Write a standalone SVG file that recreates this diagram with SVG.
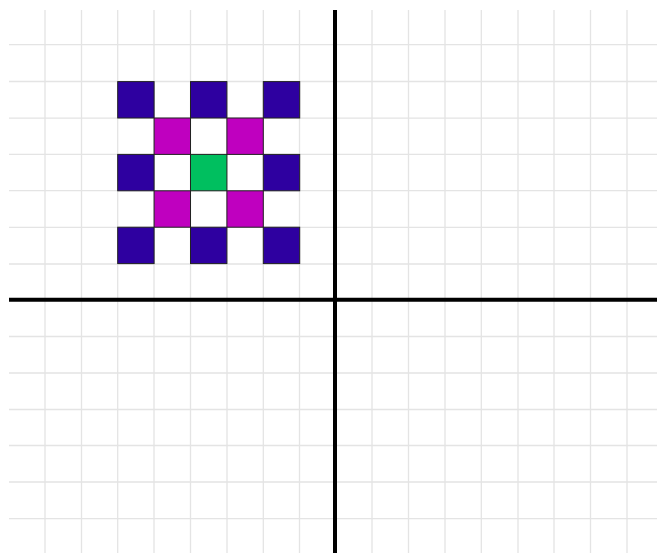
<svg xmlns="http://www.w3.org/2000/svg" width="657" height="553" viewBox="0 0 657 553">
<style>
.g{stroke:#e4e4e4;stroke-width:1.3;fill:none}
.ax{stroke:#000;stroke-width:4;fill:none}
.b{fill:#2e00a0;stroke:#222;stroke-width:1}
.m{fill:#bf00bf;stroke:#222;stroke-width:1}
.n{fill:#00bf5f;stroke:#222;stroke-width:1}
</style>
<rect width="657" height="553" fill="#fff"/>
<g id="grid">
<path class="g" d="M45,10V553M81.5,10V553M117.7,10V553M154,10V553M190.5,10V553M227,10V553M263.3,10V553M299.5,10V553M372,10V553M408.5,10V553M445,10V553M481.3,10V553M518,10V553M554,10V553M590.5,10V553M627,10V553"/>
<path class="g" d="M9,44.7H657M9,81.5H657M9,118.2H657M9,154.4H657M9,190.7H657M9,227.3H657M9,264H657M9,336.5H657M9,373H657M9,409.5H657M9,445.5H657M9,482H657M9,518.7H657"/>
</g>
<g id="squares">
<rect class="b" x="117.7" y="81.6" width="36.4" height="36.4"/>
<rect class="b" x="190.5" y="81.6" width="36.4" height="36.4"/>
<rect class="b" x="263.3" y="81.6" width="36.4" height="36.4"/>
<rect class="m" x="154.1" y="118" width="36.4" height="36.4"/>
<rect class="m" x="226.9" y="118" width="36.4" height="36.4"/>
<rect class="b" x="117.7" y="154.4" width="36.4" height="36.4"/>
<rect class="n" x="190.5" y="154.4" width="36.4" height="36.4"/>
<rect class="b" x="263.3" y="154.4" width="36.4" height="36.4"/>
<rect class="m" x="154.1" y="190.8" width="36.4" height="36.4"/>
<rect class="m" x="226.9" y="190.8" width="36.4" height="36.4"/>
<rect class="b" x="117.7" y="227.2" width="36.4" height="36.4"/>
<rect class="b" x="190.5" y="227.2" width="36.4" height="36.4"/>
<rect class="b" x="263.3" y="227.2" width="36.4" height="36.4"/>
</g>
<g id="axes">
<path class="ax" d="M335,10V553M9,299.8H657"/>
</g>
</svg>
